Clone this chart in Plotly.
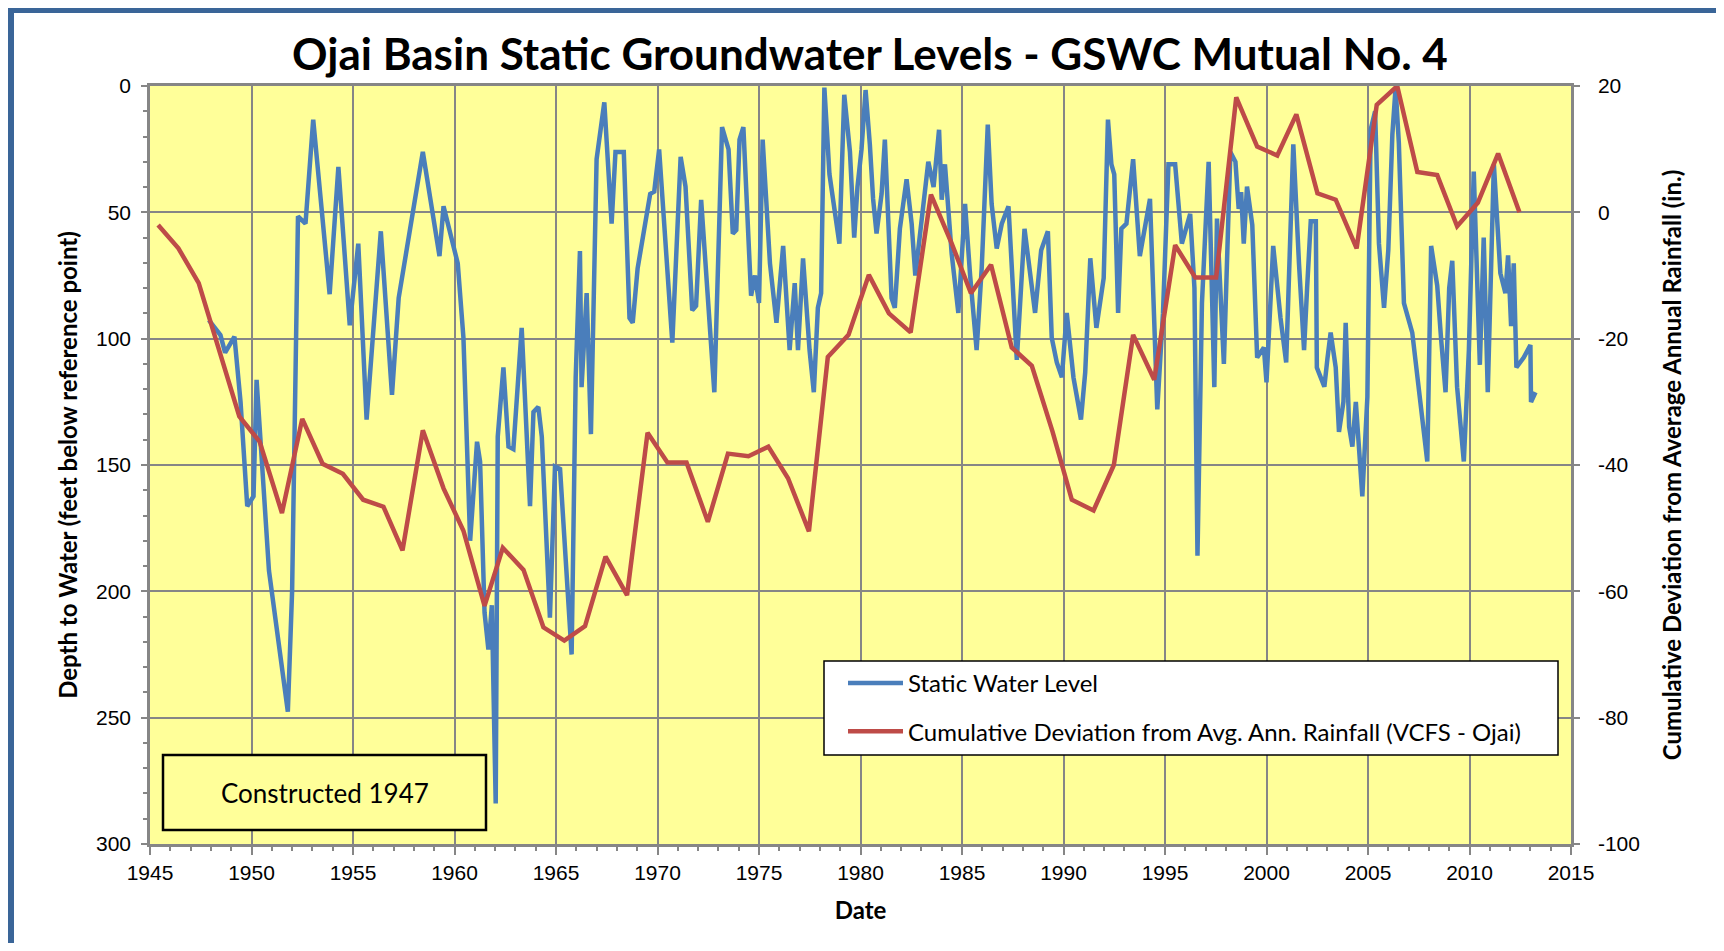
import plotly.graph_objects as go

# ---------------- data ----------------
swl_year = [1947.9, 1948.47, 1948.7, 1949.16, 1949.46, 1949.79, 1950.1, 1950.25, 1950.86, 1951.79,
            1952.0, 1952.29, 1952.66, 1953.04, 1953.85, 1954.28, 1954.84, 1955.26, 1955.67, 1956.37,
            1956.92, 1957.25, 1958.44, 1959.26, 1959.46, 1960.16, 1960.44, 1960.77, 1961.11, 1961.26,
            1961.48, 1961.67, 1961.84, 1962.03, 1962.13, 1962.41, 1962.66, 1962.9, 1963.31, 1963.72,
            1963.89, 1964.13, 1964.3, 1964.7, 1964.95, 1965.2, 1965.77, 1965.97, 1966.18, 1966.26,
            1966.51, 1966.72, 1967.0, 1967.38, 1967.74, 1967.93, 1968.34, 1968.62, 1968.78, 1969.02,
            1969.64, 1969.84, 1970.08, 1970.73, 1971.14, 1971.38, 1971.71, 1971.9, 1972.15, 1972.8,
            1973.18, 1973.5, 1973.71, 1973.88, 1974.04, 1974.23, 1974.61, 1974.8, 1975.0, 1975.18,
            1975.54, 1975.86, 1976.19, 1976.51, 1976.76, 1976.92, 1977.17, 1977.49, 1977.7, 1977.9,
            1978.06, 1978.22, 1978.47, 1978.96, 1979.2, 1979.48, 1979.69, 1979.85, 1980.05, 1980.25,
            1980.46, 1980.62, 1980.79, 1981.04, 1981.2, 1981.53, 1981.69, 1981.94, 1982.27, 1982.52,
            1982.7, 1983.01, 1983.34, 1983.6, 1983.87, 1984.0, 1984.16, 1984.49, 1984.82, 1985.15,
            1985.4, 1985.72, 1985.97, 1986.27, 1986.46, 1986.71, 1986.96, 1987.29, 1987.7, 1988.08,
            1988.36, 1988.6, 1988.9, 1989.23, 1989.42, 1989.67, 1989.92, 1990.16, 1990.49, 1990.86,
            1991.07, 1991.32, 1991.62, 1991.8, 1991.98, 1992.19, 1992.36, 1992.5, 1992.69, 1992.85,
            1993.1, 1993.43, 1993.76, 1994.26, 1994.62, 1994.9, 1995.17, 1995.5, 1995.83, 1996.24,
            1996.45, 1996.6, 1996.82, 1997.15, 1997.43, 1997.56, 1997.75, 1997.9, 1998.22, 1998.47,
            1998.63, 1998.75, 1998.88, 1999.04, 1999.3, 1999.54, 1999.87, 2000.0, 2000.33, 2000.69,
            2000.97, 2001.32, 2001.6, 2001.85, 2002.0, 2002.18, 2002.43, 2002.48, 2002.67, 2002.85,
            2003.0, 2003.16, 2003.41, 2003.57, 2003.79, 2003.9, 2004.07, 2004.23, 2004.4, 2004.55,
            2004.72, 2004.97, 2005.13, 2005.35, 2005.54, 2005.79, 2006.0, 2006.2, 2006.36, 2006.52,
            2006.77, 2007.18, 2007.59, 2007.92, 2008.11, 2008.41, 2008.6, 2008.82, 2009.0, 2009.15,
            2009.39, 2009.72, 2009.97, 2010.21, 2010.51, 2010.7, 2010.9, 2011.2, 2011.52, 2011.77,
            2011.9, 2012.05, 2012.18, 2012.31, 2012.67, 2013.0, 2013.03, 2013.25]
swl_depth = [92.7, 98.6, 105.5, 99.2, 125, 166.3, 162.4, 116.3, 191.8, 247.6,
             200, 51.6, 54.5, 13.3, 82.4, 32, 94.7, 62.4, 132, 57.5,
             122.2, 83.9, 26.1, 67.3, 47.6, 70.2, 99.6, 180, 140.8, 148.6,
             208.4, 223, 205.5, 284, 138.8, 111.4, 142.7, 143.7, 95.7, 166.3,
             129, 127, 138.8, 210.4, 150.6, 151.6, 225, 115.3, 65.3, 119.2,
             82, 137.8, 29, 6.5, 54.5, 26.1, 26.1, 91.8, 93.7, 72.2,
             42.7, 41.8, 25.1, 101.6, 28, 39.8, 88.8, 87, 45.1, 121.2,
             16.3, 25.1, 58.4, 57, 21.2, 16.3, 83, 75, 85.9, 21.2,
             70.2, 93.7, 63.3, 104.5, 78, 104.5, 68.2, 104.5, 121.2, 87.8,
             82, 0.6, 34.9, 62.4, 3.5, 26, 60, 40, 25.1, 1.6,
             23.1, 44.7, 58.4, 42.7, 21.2, 83.9, 87.8, 56.5, 36.9, 54.5,
             75, 52.5, 30, 40, 17.3, 45, 31, 66.3, 89.8, 46.7,
             75, 104.5, 72.2, 15.3, 46.7, 64.3, 54.5, 47.6, 108.4, 56.5,
             76, 89.8, 65, 57.5, 99.6, 109.4, 115.3, 89.8, 115.3, 132,
             113.3, 68.2, 95.7, 85, 76, 13.3, 31, 35, 89.8, 56.5,
             54.5, 29, 67.3, 44.7, 128, 90, 31, 31, 62.4, 50.6,
             80, 185.9, 85.9, 30, 119.2, 52.5, 90, 110, 26.1, 30,
             48.6, 42, 62.4, 39.8, 55, 107.5, 103.5, 117.3, 63.3, 91.8,
             109.4, 23.1, 70.2, 104.5, 80, 53.5, 53.5, 111.4, 115.3, 119,
             108, 97.6, 111.4, 136.9, 125, 93.7, 134.9, 142.7, 125, 145,
             162.4, 123, 17.3, 10, 62.4, 87.8, 65, 19.2, 0.6, 22.7,
             85.9, 97.6, 125.1, 148.6, 63.3, 79, 100, 121.2, 80, 69.2,
             119.2, 148.6, 104.5, 33.9, 110.4, 60, 121.2, 31, 74.1, 82,
             67, 95, 70.2, 111.4, 107.5, 102.5, 125.1, 121.2]

rain_year = [1945.4, 1946.4, 1947.4, 1948.4, 1949.4, 1950.4, 1951.5, 1952.5, 1953.5, 1954.5,
             1955.5, 1956.5, 1957.44, 1958.44, 1959.46, 1960.44, 1961.48, 1962.38, 1963.4, 1964.38,
             1965.41, 1966.43, 1967.44, 1968.5, 1969.51, 1970.49, 1971.43, 1972.48, 1973.47, 1974.48,
             1975.46, 1976.43, 1977.46, 1978.39, 1979.41, 1980.41, 1981.4, 1982.47, 1983.47, 1984.49,
             1985.44, 1986.43, 1987.45, 1988.44, 1989.46, 1990.41, 1991.48, 1992.48, 1993.43, 1994.47,
             1995.5, 1996.49, 1997.52, 1998.51, 1999.54, 2000.53, 2001.47, 2002.51, 2003.41, 2004.44,
             2005.43, 2006.44, 2007.43, 2008.41, 2009.39, 2010.41, 2011.41, 2012.46]
rain_dev = [-2.0, -5.7, -11.2, -21.8, -32.3, -36.3, -47.6, -32.7, -39.8, -41.4,
            -45.5, -46.6, -53.5, -34.5, -43.7, -50.4, -62.3, -53.1, -56.6, -65.7,
            -67.8, -65.5, -54.5, -60.6, -34.9, -39.6, -39.6, -49.0, -38.2, -38.6,
            -37.1, -42.1, -50.5, -22.9, -19.4, -9.9, -16.0, -19.0, 2.8, -4.9,
            -12.8, -8.3, -21.4, -24.3, -34.7, -45.5, -47.2, -40.0, -19.4, -26.5,
            -5.2, -10.3, -10.3, 18.2, 10.4, 9.0, 15.5, 3.0, 2.0, -5.7,
            17.0, 20.0, 6.4, 5.9, -2.2, 1.5, 9.3, 0.0]

x_ticks = [1945, 1950, 1955, 1960, 1965, 1970, 1975, 1980, 1985, 1990, 1995, 2000, 2005, 2010, 2015]
y2_ticks = [-100, -80, -60, -40, -20, 0, 20]
y2_ticktext = ["-100", "-80", "-60", "-40", "-20", "0", "20"]

# ---------------- layout helpers ----------------
# page is rendered with an 8px body margin; positions below are given in page pixels
OFF = 8
W, H = 1724 - 2 * OFF, 951 - 2 * OFF
ML, MT = 150 - OFF, 86 - OFF
MR = W - (1571 - OFF)
MB = H - (844 - OFF)
PW, PH = W - ML - MR, H - MT - MB


def px_x(p):
    return (p - OFF - ML) / PW


def px_y(p):
    return (H - MB - (p - OFF)) / PH


GRID = "#868686"
BLUE = "#4A7EBB"
RED = "#BE4B48"
TICKFONT = dict(family="Liberation Sans, Arial, sans-serif", size=21, color="#000000")
TXTFONT = "Lato, Carlito, Calibri, sans-serif"

fig = go.Figure()
fig.add_trace(go.Scatter(x=swl_year, y=swl_depth, mode="lines", name="Static Water Level",
                         line=dict(color=BLUE, width=4.5), legendgroup="a", yaxis="y"))
fig.add_trace(go.Scatter(x=rain_year, y=rain_dev, mode="lines",
                         name="Cumulative Deviation from Avg. Ann. Rainfall (VCFS - Ojai)",
                         line=dict(color=RED, width=4.5), legendgroup="b", yaxis="y2"))

fig.update_layout(
    width=W, height=H,
    margin=dict(l=ML, r=MR, t=MT, b=MB),
    paper_bgcolor="white",
    plot_bgcolor="#FFFF99",
    title=dict(text="<b>Ojai Basin Static Groundwater Levels - GSWC Mutual No. 4</b>",
               x=(870 - OFF) / W, xanchor="center", y=1 - (55 - OFF) / H, yanchor="middle",
               font=dict(family=TXTFONT, size=44, color="#000000")),
    xaxis=dict(range=[1945, 2015], tickvals=x_ticks, ticks="outside", ticklen=8, tickwidth=2,
               tickcolor=GRID, showline=True, linecolor=GRID, linewidth=2.5, mirror=True,
               showgrid=True, gridcolor=GRID, gridwidth=2, zeroline=False,
               tickfont=TICKFONT, ticklabelstandoff=0,
               minor=dict(dtick=1, tick0=1945, ticks="outside", ticklen=4, tickwidth=1.5,
                          tickcolor=GRID, showgrid=False),
               title=dict(text="<b>Date</b>", font=dict(family=TXTFONT, size=24, color="#000000"),
                          standoff=20)),
    yaxis=dict(range=[300, 0], tick0=0, dtick=50, ticks="outside", ticklen=6, tickwidth=2,
               tickcolor=GRID, showline=True, linecolor=GRID, linewidth=2.5,
               showgrid=True, gridcolor=GRID, gridwidth=2, zeroline=False,
               tickfont=TICKFONT, ticklabelstandoff=6,
               minor=dict(dtick=10, ticks="outside", ticklen=4, tickwidth=1.5,
                          tickcolor=GRID, showgrid=False),
               title=dict(text="<b>Depth to Water (feet below reference point)</b>",
                          font=dict(family=TXTFONT, size=24, color="#000000"), standoff=12)),
    yaxis2=dict(range=[-100, 20], tickvals=y2_ticks, ticktext=y2_ticktext, overlaying="y",
                side="right", ticks="outside", ticklen=6, tickwidth=2, tickcolor=GRID,
                showline=True, linecolor=GRID, linewidth=2.5, showgrid=False, zeroline=False,
                tickfont=TICKFONT, ticklabelstandoff=14,
                title=dict(text="<b>Cumulative Deviation from Average Annual Rainfall (in.)</b>",
                           font=dict(family=TXTFONT, size=24, color="#000000"), standoff=26)),
    legend=dict(x=px_x(843), y=px_y(661), xanchor="left", yanchor="top",
                bgcolor="rgba(0,0,0,0)", borderwidth=0,
                font=dict(family=TXTFONT, size=24, color="#000000"),
                tracegroupgap=14, itemwidth=55, traceorder="grouped"),
    showlegend=True,
    shapes=[
        # legend frame
        dict(type="rect", xref="paper", yref="paper",
             x0=px_x(824), x1=px_x(1558), y0=px_y(755), y1=px_y(661),
             line=dict(color="#000000", width=1.5), fillcolor="white", layer="above"),
        # "Constructed 1947" box
        dict(type="rect", xref="paper", yref="paper",
             x0=px_x(163), x1=px_x(486), y0=px_y(830), y1=px_y(755),
             line=dict(color="#000000", width=2.5), fillcolor="#FFFF99", layer="above"),
        # page frame bands
        dict(type="rect", xref="paper", yref="paper",
             x0=px_x(OFF), x1=px_x(OFF + 6), y0=px_y(951), y1=px_y(OFF),
             line=dict(width=0), fillcolor="#3A6598", layer="above"),
        dict(type="rect", xref="paper", yref="paper",
             x0=px_x(OFF), x1=px_x(1724), y0=px_y(OFF + 5), y1=px_y(OFF),
             line=dict(width=0), fillcolor="#3A6598", layer="above"),
    ],
    annotations=[
        dict(text="Constructed 1947", xref="paper", yref="paper",
             x=px_x(325), y=px_y(793), xanchor="center", yanchor="middle", showarrow=False,
             font=dict(family=TXTFONT, size=26, color="#000000")),
    ],
)

fig.write_html("out.html")
